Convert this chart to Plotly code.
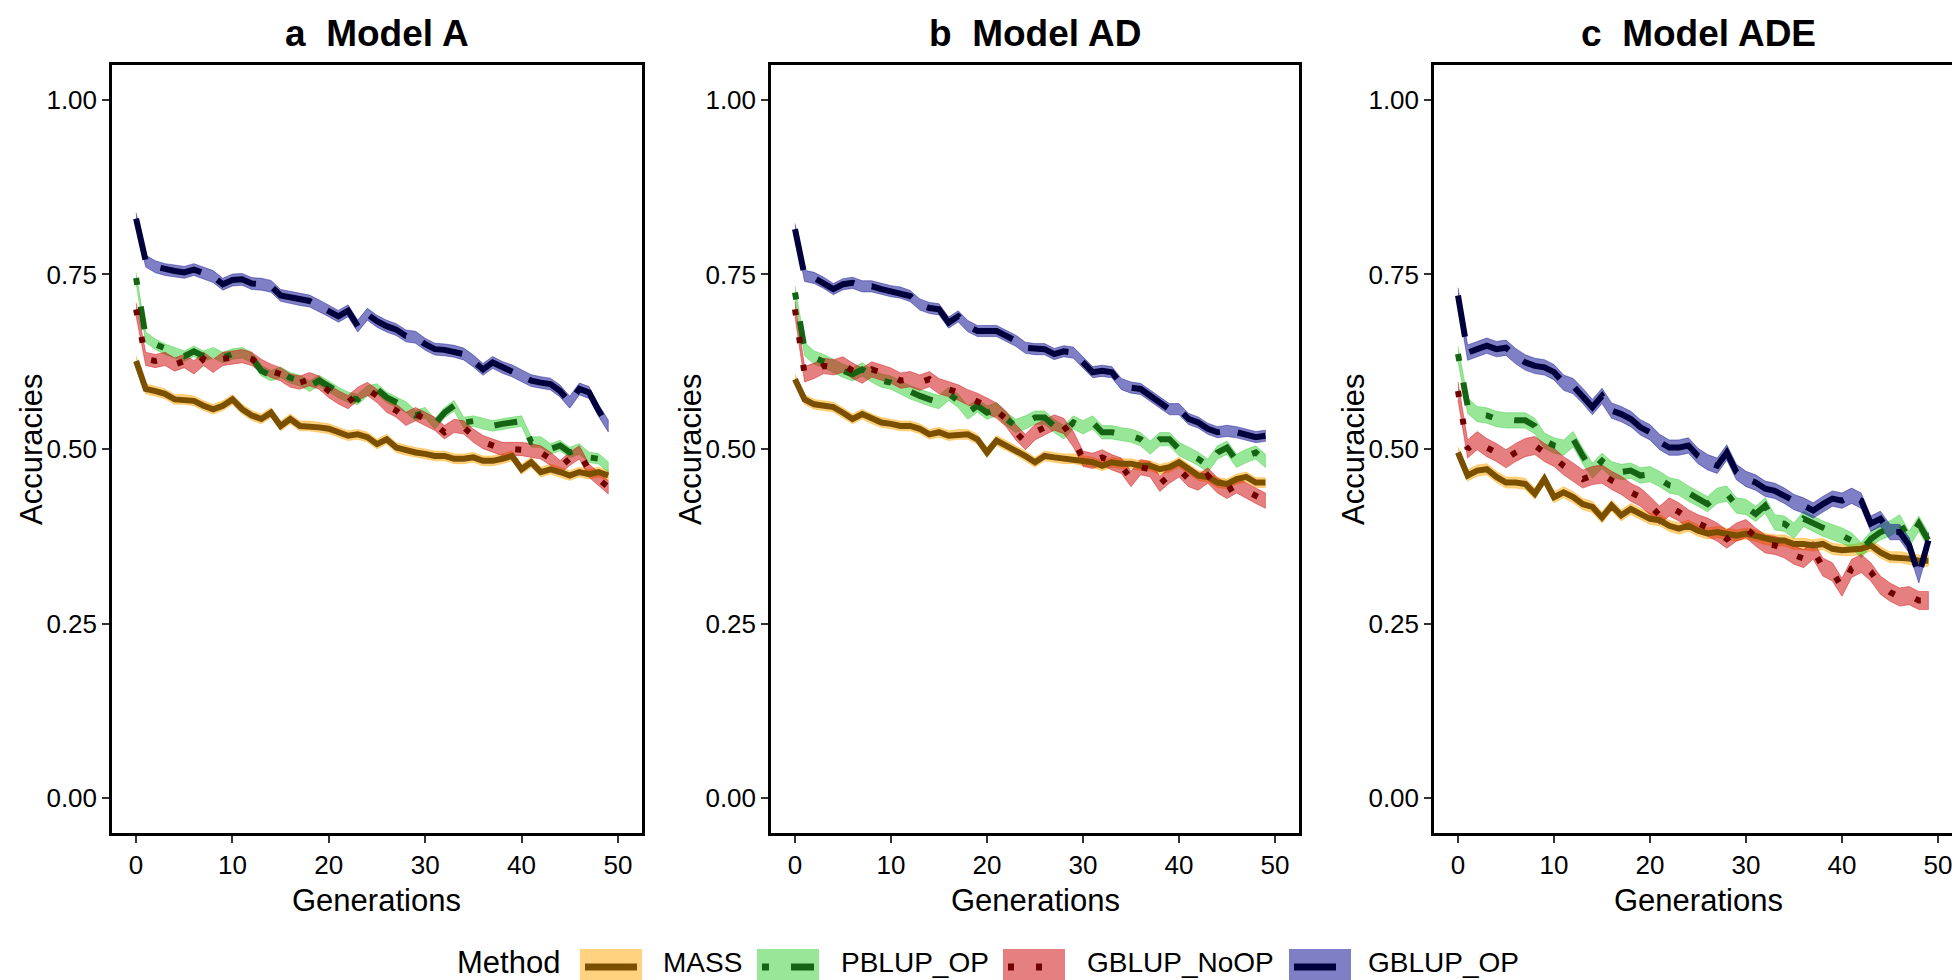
import plotly.graph_objects as go

# ---------------- data ----------------
METHODS = ["MASS", "PBLUP_OP", "GBLUP_NoOP", "GBLUP_OP"]
PANEL_TITLES = [("a", "Model A"), ("b", "Model AD"), ("c", "Model ADE")]
Y_TICKS = [0.0, 0.25, 0.5, 0.75, 1.0]
X_TICKS = [0, 10, 20, 30, 40, 50]

# Model A
A_MASS = [0.626, 0.586, 0.583, 0.579, 0.571, 0.571, 0.569, 0.562, 0.557, 0.562,
          0.571, 0.557, 0.548, 0.543, 0.552, 0.533, 0.543, 0.533, 0.533, 0.531,
          0.529, 0.524, 0.519, 0.521, 0.517, 0.507, 0.514, 0.502, 0.498, 0.495,
          0.493, 0.490, 0.490, 0.486, 0.486, 0.488, 0.483, 0.483, 0.486, 0.490,
          0.471, 0.481, 0.467, 0.471, 0.467, 0.462, 0.467, 0.464, 0.467, 0.462]
A_PBLUP = [0.745, 0.660, 0.650, 0.643, 0.638, 0.633, 0.640, 0.633, 0.638, 0.631,
           0.636, 0.638, 0.631, 0.612, 0.605, 0.610, 0.602, 0.598, 0.590, 0.598,
           0.590, 0.581, 0.574, 0.571, 0.583, 0.586, 0.574, 0.567, 0.560, 0.548,
           0.552, 0.536, 0.552, 0.562, 0.538, 0.540, 0.536, 0.533, 0.536, 0.538,
           0.540, 0.510, 0.510, 0.500, 0.505, 0.495, 0.500, 0.488, 0.486, 0.474]
A_NOOP = [0.700, 0.629, 0.626, 0.629, 0.621, 0.626, 0.617, 0.629, 0.619, 0.629,
          0.631, 0.633, 0.629, 0.619, 0.612, 0.607, 0.598, 0.595, 0.600, 0.595,
          0.583, 0.574, 0.567, 0.579, 0.586, 0.576, 0.562, 0.555, 0.543, 0.550,
          0.543, 0.536, 0.524, 0.533, 0.531, 0.519, 0.510, 0.505, 0.500, 0.500,
          0.500, 0.498, 0.495, 0.486, 0.474, 0.486, 0.495, 0.469, 0.457, 0.445]
A_OP = [0.830, 0.769, 0.761, 0.757, 0.755, 0.753, 0.757, 0.752, 0.747, 0.736,
        0.742, 0.743, 0.737, 0.736, 0.733, 0.720, 0.717, 0.714, 0.712, 0.705,
        0.698, 0.690, 0.698, 0.676, 0.693, 0.683, 0.676, 0.671, 0.662, 0.660,
        0.650, 0.643, 0.642, 0.640, 0.636, 0.626, 0.614, 0.624, 0.617, 0.612,
        0.605, 0.598, 0.595, 0.593, 0.583, 0.567, 0.586, 0.581, 0.555, 0.533]

# Model AD
B_MASS = [0.600, 0.571, 0.564, 0.562, 0.560, 0.552, 0.543, 0.550, 0.543, 0.538,
          0.536, 0.533, 0.533, 0.529, 0.521, 0.524, 0.519, 0.521, 0.521, 0.514,
          0.495, 0.512, 0.505, 0.498, 0.490, 0.481, 0.490, 0.488, 0.486, 0.486,
          0.483, 0.481, 0.476, 0.481, 0.479, 0.479, 0.476, 0.476, 0.471, 0.474,
          0.481, 0.471, 0.462, 0.460, 0.452, 0.450, 0.457, 0.460, 0.452, 0.452]
B_PBLUP = [0.724, 0.643, 0.631, 0.626, 0.619, 0.612, 0.607, 0.614, 0.605, 0.598,
           0.595, 0.588, 0.581, 0.576, 0.571, 0.567, 0.579, 0.569, 0.552, 0.562,
           0.552, 0.557, 0.543, 0.533, 0.538, 0.545, 0.545, 0.533, 0.524, 0.538,
           0.531, 0.538, 0.524, 0.524, 0.521, 0.519, 0.514, 0.502, 0.514, 0.514,
           0.500, 0.493, 0.486, 0.476, 0.495, 0.502, 0.483, 0.490, 0.495, 0.483]
B_NOOP = [0.700, 0.607, 0.612, 0.619, 0.617, 0.621, 0.612, 0.605, 0.614, 0.610,
          0.605, 0.598, 0.600, 0.595, 0.600, 0.590, 0.586, 0.581, 0.574, 0.569,
          0.562, 0.555, 0.543, 0.524, 0.510, 0.524, 0.531, 0.538, 0.533, 0.514,
          0.486, 0.483, 0.488, 0.481, 0.476, 0.457, 0.474, 0.471, 0.450, 0.462,
          0.471, 0.457, 0.452, 0.462, 0.448, 0.440, 0.448, 0.440, 0.433, 0.426]
B_OP = [0.815, 0.748, 0.745, 0.738, 0.729, 0.736, 0.738, 0.733, 0.733, 0.729,
        0.726, 0.724, 0.719, 0.707, 0.702, 0.700, 0.681, 0.690, 0.676, 0.669,
        0.669, 0.669, 0.662, 0.655, 0.645, 0.643, 0.643, 0.636, 0.640, 0.638,
        0.624, 0.610, 0.612, 0.610, 0.593, 0.588, 0.586, 0.576, 0.567, 0.557,
        0.557, 0.543, 0.538, 0.529, 0.524, 0.526, 0.524, 0.521, 0.517, 0.519]

# Model ADE
C_MASS = [0.495, 0.462, 0.469, 0.471, 0.460, 0.452, 0.452, 0.450, 0.436, 0.457,
          0.431, 0.438, 0.431, 0.421, 0.417, 0.402, 0.419, 0.405, 0.414, 0.407,
          0.400, 0.398, 0.390, 0.386, 0.390, 0.383, 0.379, 0.381, 0.379, 0.376,
          0.379, 0.376, 0.371, 0.369, 0.369, 0.364, 0.364, 0.362, 0.364, 0.357,
          0.355, 0.355, 0.357, 0.362, 0.352, 0.345, 0.345, 0.343, 0.340, 0.340]
C_PBLUP = [0.636, 0.562, 0.550, 0.548, 0.543, 0.541, 0.541, 0.541, 0.533, 0.512,
           0.505, 0.502, 0.514, 0.490, 0.469, 0.483, 0.471, 0.467, 0.469, 0.462,
           0.464, 0.457, 0.448, 0.445, 0.436, 0.429, 0.421, 0.433, 0.436, 0.419,
           0.417, 0.407, 0.419, 0.395, 0.393, 0.383, 0.400, 0.393, 0.386, 0.381,
           0.376, 0.369, 0.355, 0.371, 0.381, 0.386, 0.395, 0.371, 0.393, 0.369]
C_NOOP = [0.583, 0.500, 0.512, 0.502, 0.495, 0.486, 0.495, 0.502, 0.505, 0.495,
          0.488, 0.476, 0.467, 0.457, 0.462, 0.464, 0.455, 0.448, 0.438, 0.431,
          0.419, 0.405, 0.417, 0.410, 0.400, 0.393, 0.388, 0.381, 0.371, 0.381,
          0.386, 0.374, 0.364, 0.362, 0.357, 0.348, 0.343, 0.355, 0.331, 0.324,
          0.302, 0.329, 0.336, 0.324, 0.305, 0.295, 0.288, 0.290, 0.283, 0.283]
C_OP = [0.720, 0.638, 0.643, 0.648, 0.643, 0.645, 0.633, 0.624, 0.619, 0.617,
        0.610, 0.595, 0.590, 0.576, 0.560, 0.576, 0.555, 0.550, 0.543, 0.531,
        0.524, 0.510, 0.502, 0.502, 0.505, 0.490, 0.481, 0.476, 0.495, 0.467,
        0.457, 0.452, 0.443, 0.440, 0.433, 0.424, 0.419, 0.412, 0.421, 0.429,
        0.426, 0.433, 0.426, 0.393, 0.400, 0.381, 0.381, 0.362, 0.319, 0.369]

# ribbon half-widths (per panel, per method)
A_HALF = [0.007, 0.0075, 0.0095, 0.0085]
B_HALF = [0.007, 0.0095, 0.011, 0.008]
C_HALF = [0.008, 0.011, 0.013, 0.011]

PANELS = [
    [A_MASS, A_PBLUP, A_NOOP, A_OP],
    [B_MASS, B_PBLUP, B_NOOP, B_OP],
    [C_MASS, C_PBLUP, C_NOOP, C_OP],
]
HALVES = [A_HALF, B_HALF, C_HALF]

# ---------------- style ----------------
FILL = ["rgba(255,165,0,0.5)", "rgba(50,205,50,0.5)",
        "rgba(205,0,0,0.5)", "rgba(0,0,139,0.5)"]
LINE = ["#7a4f00", "#146414", "#6e0000", "#00003c"]
DASH = ["solid", "7px,22px,23px,22px", "6px,22px", "42px,18px"]
FONT = "Liberation Sans, Arial, sans-serif"

W, H = 1960, 980
X_DOM = [(104 / W, 634 / W), (763 / W, 1291 / W), (1426 / W, 1954 / W)]
Y_DOM = (1 - 825 / H, 1 - 57 / H)

fig = go.Figure()

for p, series in enumerate(PANELS):
    ax = "" if p == 0 else str(p + 1)
    for m, vals in enumerate(series):
        gens = list(range(len(vals)))
        hw = HALVES[p][m]
        upper = [v + hw for v in vals]
        lower = [v - hw for v in vals]
        fig.add_trace(go.Scatter(
            x=gens + gens[::-1], y=upper + lower[::-1],
            fill="toself", fillcolor=FILL[m], mode="lines",
            line=dict(width=0.8, color=FILL[m]),
            hoverinfo="skip", showlegend=False,
            xaxis="x" + ax, yaxis="y" + ax))
    for m, vals in enumerate(series):
        gens = list(range(len(vals)))
        fig.add_trace(go.Scatter(
            x=gens, y=vals, mode="lines", name=METHODS[m],
            line=dict(color=LINE[m], width=6, dash=DASH[m]),
            showlegend=False, xaxis="x" + ax, yaxis="y" + ax))

axis_common = dict(
    showline=True, mirror=True, linecolor="black", linewidth=2.5,
    ticks="outside", ticklen=7, tickwidth=2, tickcolor="#333333",
    showgrid=False, zeroline=False,
    tickfont=dict(family=FONT, size=26, color="black"),
)

layout = dict(
    width=W, height=H, margin=dict(l=0, r=0, t=0, b=0),
    paper_bgcolor="white", plot_bgcolor="white", showlegend=False,
    font=dict(family=FONT, color="black"),
)
for p in range(3):
    ax = "" if p == 0 else str(p + 1)
    layout["xaxis" + ax] = dict(axis_common, domain=list(X_DOM[p]),
                                range=[-2.5, 52.5], tickvals=X_TICKS,
                                anchor="y" + ax)
    layout["yaxis" + ax] = dict(axis_common, domain=list(Y_DOM),
                                range=[-0.05, 1.05], tickvals=Y_TICKS,
                                tickformat=".2f", anchor="x" + ax)
fig.update_layout(**layout)

annotations = []
shapes = []
for p, (letter, model) in enumerate(PANEL_TITLES):
    cx = (X_DOM[p][0] + X_DOM[p][1]) / 2
    annotations.append(dict(
        text="<b>" + letter + "</b>\u00a0\u00a0<b>" + model + "</b>",
        x=cx, y=1 - 26 / H, xref="paper", yref="paper",
        xanchor="center", yanchor="middle", showarrow=False,
        font=dict(family=FONT, size=37, color="black")))
    annotations.append(dict(
        text="Generations", x=cx, y=1 - 892 / H, xref="paper", yref="paper",
        xanchor="center", yanchor="middle", showarrow=False,
        font=dict(family=FONT, size=31, color="black")))
    annotations.append(dict(
        text="Accuracies", x=X_DOM[p][0] - 80 / W, y=(Y_DOM[0] + Y_DOM[1]) / 2,
        xref="paper", yref="paper", textangle=-90,
        xanchor="center", yanchor="middle", showarrow=False,
        font=dict(family=FONT, size=31, color="black")))

# manual legend
LEG_KEY_LEFT = [572, 749, 995, 1281]
LEG_TEXT_LEFT = [653, 831, 1077, 1358]
ky0, ky1 = 1 - 977 / H, 1 - 941 / H
kyc = (ky0 + ky1) / 2
kyt = 1 - 954 / H
annotations.append(dict(
    text="Method", x=447 / W, y=kyt, xref="paper", yref="paper",
    xanchor="left", yanchor="middle", showarrow=False,
    font=dict(family=FONT, size=31, color="black")))
for m in range(4):
    x0 = LEG_KEY_LEFT[m] / W
    x1 = (LEG_KEY_LEFT[m] + 62) / W
    shapes.append(dict(type="rect", xref="paper", yref="paper",
                       x0=x0, x1=x1, y0=ky0, y1=ky1,
                       fillcolor=FILL[m], line=dict(width=0)))
    shapes.append(dict(type="line", xref="paper", yref="paper",
                       x0=(LEG_KEY_LEFT[m] + 5) / W, x1=(LEG_KEY_LEFT[m] + 57) / W,
                       y0=kyc, y1=kyc,
                       line=dict(color=LINE[m], width=7, dash=DASH[m])))
    annotations.append(dict(
        text=METHODS[m], x=LEG_TEXT_LEFT[m] / W, y=kyt, xref="paper", yref="paper",
        xanchor="left", yanchor="middle", showarrow=False,
        font=dict(family=FONT, size=28, color="black")))

fig.update_layout(annotations=annotations, shapes=shapes)
fig.write_html("out.html")
